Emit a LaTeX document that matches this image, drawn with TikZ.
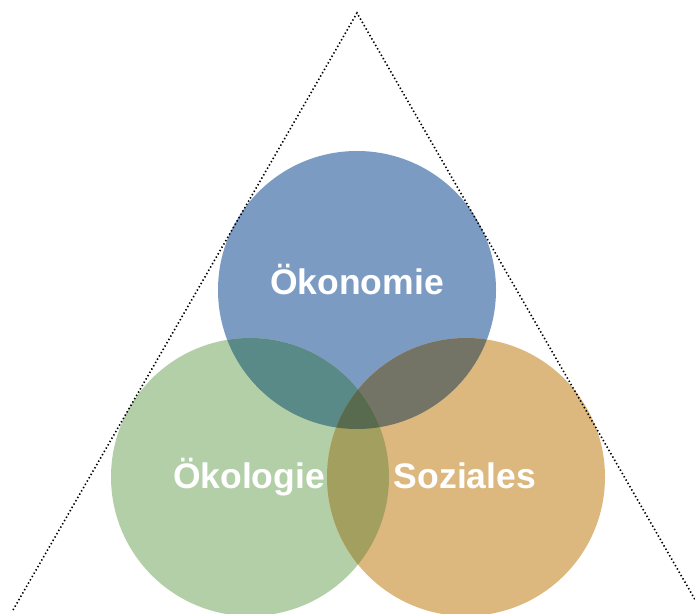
\documentclass[tikz,border=0pt]{standalone}
\usepackage{fontspec}
\setmainfont{Liberation Sans}
\usetikzlibrary{
  calc,
  positioning
}
\definecolor{oekoblue}{HTML}{7B9BC3}
\definecolor{oekogreen}{HTML}{B3CFA7}
\definecolor{soziorange}{HTML}{DDB87E}
\definecolor{bluegreen}{HTML}{5A8A87}
\definecolor{blueorange}{HTML}{747466}
\definecolor{greenorange}{HTML}{A39F5E}
\definecolor{allthree}{HTML}{586B4F}
\tikzset{
  pillar/.style={
    circle,
    draw=none,
    minimum size=278pt,
    inner sep=0pt
  },
  pillarlabel/.style={text=white, anchor=base, inner sep=0pt, font=\fontsize{35.5}{40}\selectfont\bfseries},
  frame/.style={draw=black, line width=1.6pt, dash pattern=on 1.4pt off 2.4pt}
}
\begin{document}
\begin{tikzpicture}[x=1pt, y=1pt]
  \useasboundingbox (0,0) rectangle (695,613);

  \node[pillar, fill=oekoblue] (oekonomie) at (357,323) {};
  \node[pillar, fill=oekogreen] (oekologie) at (250,136) {};
  \node[pillar, fill=soziorange] (soziales) at (466,136) {};

  % overlaps
  \begin{scope}
    \clip (357,323) circle (139);
    \fill[bluegreen] (250,136) circle (139);
    \fill[blueorange] (466,136) circle (139);
  \end{scope}
  \begin{scope}
    \clip (250,136) circle (139);
    \fill[greenorange] (466,136) circle (139);
    \clip (466,136) circle (139);
    \fill[allthree] (357,323) circle (139);
  \end{scope}

  \node[pillarlabel] (oekonomietext) at (357,318.5) {Ökonomie};
  \node[pillarlabel] (oekologietext) at (249,125) {Ökologie};
  \node[pillarlabel] (sozialestext) at (465,125) {Soziales};

  \coordinate (apex) at (357,600);
  \coordinate (leftfoot) at (13,3);
  \coordinate (rightfoot) at (701,3);
  \draw[frame] (leftfoot) -- (apex) -- (rightfoot);
\end{tikzpicture}
\end{document}
